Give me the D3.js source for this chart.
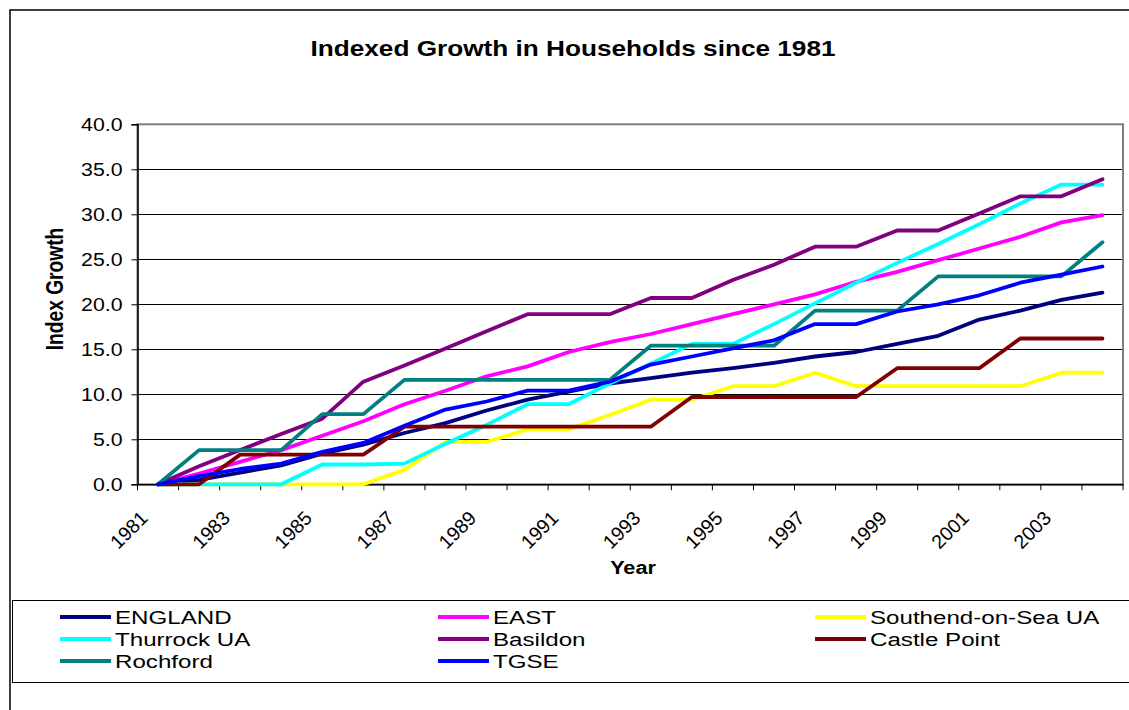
<!DOCTYPE html>
<html>
<head>
<meta charset="utf-8">
<script src="https://cdnjs.cloudflare.com/ajax/libs/d3/7.8.5/d3.min.js"></script>
<style>
  body { margin: 0; background: #fff; }
  svg { display: block; }
  text { font-family: "Liberation Sans", Arial, sans-serif; fill: #000; }
</style>
</head>
<body>
<div id="chart"></div>
<script>
// data, 1981 = 0
var years = [1981, 1982, 1983, 1984, 1985, 1986, 1987, 1988, 1989, 1990, 1991, 1992,
             1993, 1994, 1995, 1996, 1997, 1998, 1999, 2000, 2001, 2002, 2003, 2004];
var yTicks = [0, 5, 10, 15, 20, 25, 30, 35, 40];

var england   = [0, 0.5, 1.3, 2.1, 3.4, 4.4, 5.7, 6.8, 8.2, 9.4, 10.3, 11.2, 11.8, 12.4, 12.9, 13.5, 14.2, 14.7, 15.6, 16.5, 18.3, 19.3, 20.5, 21.3];
var east      = [0, 1.2, 2.5, 3.8, 5.4, 7.0, 8.9, 10.4, 12.0, 13.1, 14.7, 15.8, 16.7, 17.8, 18.9, 20.0, 21.1, 22.5, 23.6, 24.9, 26.2, 27.5, 29.1, 29.9];
var southend  = [0, 0, 0, 0, 0, 0, 1.6, 4.7, 4.7, 6.1, 6.1, 7.7, 9.4, 9.4, 10.9, 10.9, 12.4, 10.9, 10.9, 10.9, 10.9, 10.9, 12.4, 12.4];
var thurrock  = [0, 0, 0, 0, 2.2, 2.2, 2.3, 4.5, 6.6, 8.9, 8.9, 11.2, 13.4, 15.6, 15.6, 17.8, 20.1, 22.4, 24.6, 26.7, 28.9, 31.2, 33.3, 33.3];
var basildon  = [0, 2.0, 3.8, 5.6, 7.3, 11.4, 13.2, 15.1, 17.0, 18.9, 18.9, 18.9, 20.7, 20.7, 22.7, 24.4, 26.4, 26.4, 28.2, 28.2, 30.1, 32.0, 32.0, 33.9];
var castle    = [0, 0, 3.3, 3.3, 3.3, 3.3, 6.4, 6.4, 6.4, 6.4, 6.4, 6.4, 6.4, 9.7, 9.7, 9.7, 9.7, 9.7, 12.9, 12.9, 12.9, 16.2, 16.2, 16.2];
var rochford  = [0, 3.8, 3.8, 3.8, 7.8, 7.8, 11.6, 11.6, 11.6, 11.6, 11.6, 11.6, 15.4, 15.4, 15.4, 15.4, 19.3, 19.3, 19.3, 23.1, 23.1, 23.1, 23.1, 26.9];
var tgse      = [0, 0.9, 1.7, 2.3, 3.6, 4.6, 6.5, 8.3, 9.2, 10.4, 10.4, 11.4, 13.3, 14.2, 15.1, 16.0, 17.8, 17.8, 19.2, 20.0, 21.0, 22.4, 23.3, 24.2];

var seriesNames  = ["ENGLAND", "EAST", "Southend-on-Sea UA", "Thurrock UA", "Basildon", "Castle Point", "Rochford", "TGSE"];
var seriesColors = ["#000080", "#ff00ff", "#ffff00", "#00ffff", "#800080", "#800000", "#008080", "#0000ff"];
var seriesValues = [england, east, southend, thurrock, basildon, castle, rochford, tgse];

var width = 1129, height = 710;
var plot = {left: 137.5, right: 1123, top: 124.3, bottom: 484.3};

var svg = d3.select("#chart").append("svg")
  .attr("width", width)
  .attr("height", height);

// stretch text sideways, the source fonts are wide
function place(sel, x, y, sx) {
  sel.attr("transform", "translate(" + x + "," + y + ") scale(" + sx + ",1)");
}

// outer chart frame
svg.append("path")
  .attr("d", "M10,720V10H1140")
  .attr("fill", "none")
  .attr("stroke", "#000")
  .attr("stroke-width", 1.5);

var x = d3.scaleBand().domain(years).range([plot.left, plot.right]);
var y = d3.scaleLinear().domain([0, 40]).range([plot.bottom, plot.top]);
var cx = function(yr) { return x(yr) + x.bandwidth() / 2; };

// title
var title = svg.append("text")
  .attr("text-anchor", "middle")
  .style("font-weight", "bold")
  .style("font-size", "22px")
  .text("Indexed Growth in Households since 1981");
place(title, 573, 56, 1.19);

// gridlines
svg.append("g")
  .selectAll("line")
  .data(yTicks.filter(function(d) { return d > 0 && d < 40; }))
  .enter()
  .append("line")
  .attr("x1", plot.left).attr("x2", plot.right)
  .attr("y1", function(d) { return Math.round(y(d)) + 0.5; })
  .attr("y2", function(d) { return Math.round(y(d)) + 0.5; })
  .attr("stroke", "#000")
  .attr("stroke-width", 1);

// plot area border
svg.append("rect")
  .attr("x", plot.left).attr("y", plot.top)
  .attr("width", plot.right - plot.left)
  .attr("height", plot.bottom - plot.top)
  .attr("fill", "none")
  .attr("stroke", "#808080")
  .attr("stroke-width", 2);

// y axis
var yAxis = d3.axisLeft(y).tickValues(yTicks).tickSize(6).tickFormat(d3.format(".1f"));
var gy = svg.append("g")
  .attr("transform", "translate(" + plot.left + ",0)")
  .call(yAxis);
gy.select(".domain").attr("stroke", "#000").attr("stroke-width", 1.5);
gy.selectAll(".tick line").attr("stroke", "#000");
gy.selectAll(".tick text").each(function(d) {
  var t = d3.select(this).attr("x", null).attr("dy", null).attr("y", null)
    .attr("text-anchor", "end").style("font-size", "18.5px");
  place(t, -15, 6.5, 1.15);
});

// x axis: labels on every other year, ticks between categories
var xAxis = d3.axisBottom(x)
  .tickValues(years.filter(function(d, i) { return i % 2 == 0; }))
  .tickSize(0);
var gx = svg.append("g")
  .attr("transform", "translate(0," + plot.bottom + ")")
  .call(xAxis);
gx.select(".domain").attr("stroke", "#000").attr("stroke-width", 1.5);
gx.selectAll(".tick text").each(function() {
  var t = d3.select(this).attr("y", null).attr("dy", null)
    .attr("text-anchor", "end").style("font-size", "19.5px");
  t.attr("transform", "translate(-9,35) rotate(-45)");
});
gx.append("g")
  .selectAll("line")
  .data(years.concat([null]))
  .enter()
  .append("line")
  .attr("x1", function(d, i) { return plot.left + i * x.bandwidth(); })
  .attr("x2", function(d, i) { return plot.left + i * x.bandwidth(); })
  .attr("y1", 0).attr("y2", 6)
  .attr("stroke", "#000");

// axis titles
svg.append("text")
  .attr("text-anchor", "middle")
  .style("font-weight", "bold")
  .style("font-size", "20px")
  .attr("transform", "translate(63,289) rotate(-90) scale(0.96,1.2)")
  .text("Index Growth");

var xt = svg.append("text")
  .attr("text-anchor", "middle")
  .style("font-weight", "bold")
  .style("font-size", "19px")
  .text("Year");
place(xt, 633, 574, 1.14);

// lines
var line = d3.line()
  .x(function(d, i) { return cx(years[i]); })
  .y(function(d) { return y(d); });

svg.append("g")
  .selectAll("path")
  .data(seriesValues)
  .enter()
  .append("path")
  .attr("d", line)
  .attr("fill", "none")
  .attr("stroke", function(d, i) { return seriesColors[i]; })
  .attr("stroke-width", 3.8)
  .attr("stroke-linejoin", "round")
  .attr("stroke-linecap", "round");

// legend
svg.append("rect")
  .attr("x", 12.5).attr("y", 600.5)
  .attr("width", 1130).attr("height", 82)
  .attr("fill", "#fff")
  .attr("stroke", "#000")
  .attr("stroke-width", 1);

var colX = [115, 493, 870];
var rowY = [624, 646, 668];
var items = svg.append("g")
  .selectAll("g")
  .data(seriesNames)
  .enter()
  .append("g")
  .attr("transform", function(d, i) { return "translate(" + colX[i % 3] + "," + rowY[Math.floor(i / 3)] + ")"; });
items.append("line")
  .attr("x1", -55).attr("x2", -4)
  .attr("y1", -7).attr("y2", -7)
  .attr("stroke", function(d, i) { return seriesColors[i]; })
  .attr("stroke-width", 3.8);
items.append("text")
  .style("font-size", "19px")
  .attr("transform", "scale(1.27,1)")
  .text(function(d) { return d; });
</script>
</body>
</html>
